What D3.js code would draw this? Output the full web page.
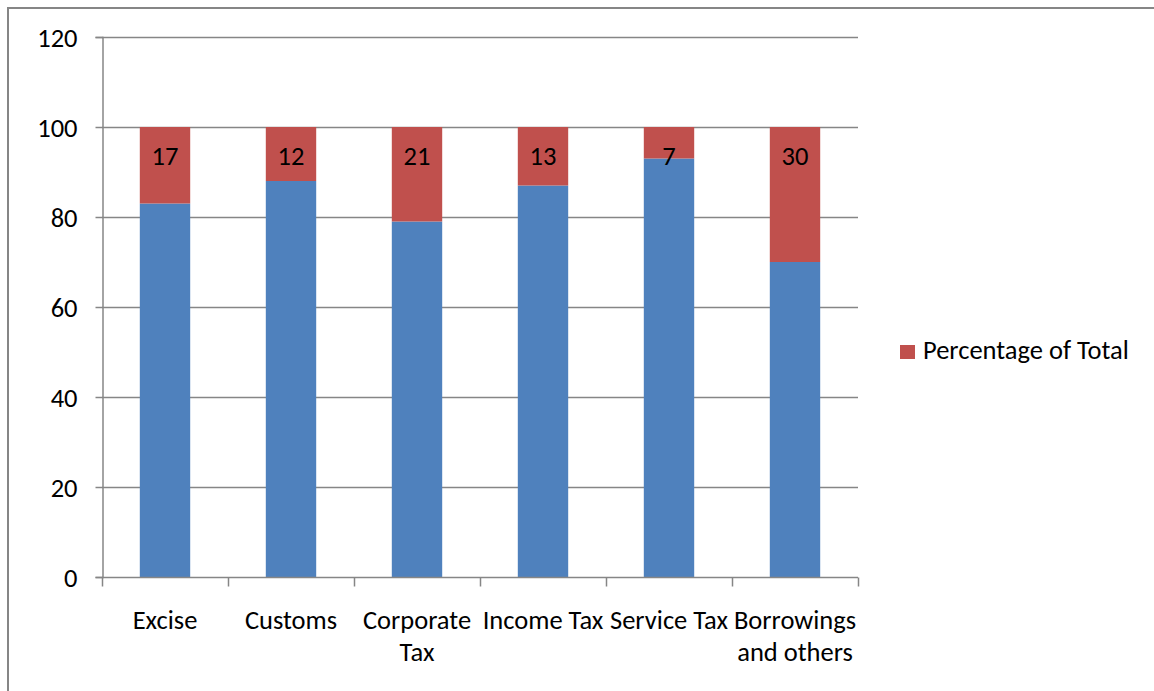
<!DOCTYPE html>
<html>
<head>
<meta charset="utf-8">
<script src="https://cdn.jsdelivr.net/npm/d3@7"></script>
<style>
  html, body { margin: 0; padding: 0; background: #fff; }
  svg { display: block; }
  text { font-family: Carlito, Calibri, Lato, "Open Sans", sans-serif; fill: #000; }
</style>
</head>
<body>
<svg id="chart" width="1154" height="691"></svg>
<script>
// Revenue sources, split into the remainder and the share of total
const categories = ["Excise", "Customs", "Corporate Tax", "Income Tax", "Service Tax", "Borrowings and others"];
const remainder = [83, 88, 79, 87, 93, 70];
const percentageOfTotal = [17, 12, 21, 13, 7, 30];
const yTicks = [0, 20, 40, 60, 80, 100, 120];
const seriesNames = ["Remainder", "Percentage of Total"];
const seriesColors = ["#4F81BD", "#C0504D"];

const FONT = 26.5;
const svg = d3.select("#chart");
const W = 1154, H = 691;

// outer chart border
svg.append("rect")
  .attr("x", 8).attr("y", 8)
  .attr("width", W + 10).attr("height", H + 10)
  .attr("fill", "none").attr("stroke", "#868686").attr("stroke-width", 2);

const plot = { left: 102, right: 858, top: 37, bottom: 577 };

const x = d3.scaleBand().domain(categories).range([plot.left, plot.right]).paddingInner(0.6).paddingOuter(0.3);
const xOuter = d3.scaleBand().domain(categories).range([plot.left, plot.right]);
const y = d3.scaleLinear().domain([0, 120]).range([plot.bottom, plot.top]);

const rows = categories.map((c, i) => ({ category: c, remainder: remainder[i], share: percentageOfTotal[i] }));
const stack = d3.stack().keys(["remainder", "share"])(rows);

// gridlines
svg.append("g").selectAll("line").data(yTicks.filter(t => t > 0)).join("line")
  .attr("x1", plot.left).attr("x2", plot.right)
  .attr("y1", d => Math.round(y(d)) + 0.5).attr("y2", d => Math.round(y(d)) + 0.5)
  .attr("stroke", "#868686").attr("stroke-width", 1.5);

// bars
svg.append("g").selectAll("g").data(stack).join("g")
  .attr("fill", (d, i) => seriesColors[i])
  .selectAll("rect").data(d => d).join("rect")
  .attr("x", d => x(d.data.category))
  .attr("width", x.bandwidth())
  .attr("y", d => y(d[1]))
  .attr("height", d => y(d[0]) - y(d[1]));

// y axis
const yAxis = svg.append("g").attr("transform", `translate(${plot.left + 0.5},0)`)
  .call(d3.axisLeft(y).tickValues(yTicks).tickSize(7).tickPadding(18).tickFormat(d3.format("d")));
yAxis.attr("font-size", null).attr("font-family", null);
yAxis.select(".domain").attr("stroke", "#868686").attr("stroke-width", 1.5);
yAxis.selectAll(".tick line").attr("stroke", "#868686").attr("stroke-width", 1.5);
yAxis.selectAll(".tick text").attr("font-size", FONT).attr("fill", "#000").attr("dy", "0.35em");

// x axis with boundary ticks between categories
const xAxisG = svg.append("g").attr("transform", `translate(0,${plot.bottom + 0.5})`);
xAxisG.append("line").attr("x1", plot.left).attr("x2", plot.right)
  .attr("stroke", "#868686").attr("stroke-width", 1.5);
const bounds = categories.map(c => xOuter(c)).concat([plot.right]);
xAxisG.selectAll("line.tick").data(bounds).join("line").attr("class", "tick")
  .attr("x1", d => Math.round(d) + 0.5).attr("x2", d => Math.round(d) + 0.5)
  .attr("y1", 0).attr("y2", 9)
  .attr("stroke", "#868686").attr("stroke-width", 1.5);

// category labels, wrapped onto two lines where needed
const labelLines = {
  "Excise": ["Excise"],
  "Customs": ["Customs"],
  "Corporate Tax": ["Corporate", "Tax"],
  "Income Tax": ["Income Tax"],
  "Service Tax": ["Service Tax"],
  "Borrowings and others": ["Borrowings", "and others"]
};
xAxisG.selectAll("text").data(categories).join("text")
  .attr("text-anchor", "middle").attr("font-size", FONT)
  .attr("transform", d => `translate(${xOuter(d) + xOuter.bandwidth() / 2},0)`)
  .each(function (d) {
    d3.select(this).selectAll("tspan").data(labelLines[d]).join("tspan")
      .attr("x", 0).attr("y", (l, i) => 51 + i * 32).text(l => l);
  });

// data labels inside the top of each share segment
svg.append("g").selectAll("text").data(stack[1]).join("text")
  .attr("x", d => x(d.data.category) + x.bandwidth() / 2)
  .attr("y", d => y(d[1]) + 38)
  .attr("text-anchor", "middle").attr("font-size", FONT)
  .text(d => d.data.share);

// legend
const legend = svg.append("g").attr("transform", "translate(900,345)");
legend.append("rect").attr("width", 15).attr("height", 14).attr("fill", seriesColors[1]);
legend.append("text").attr("x", 23).attr("y", 13.5).attr("font-size", FONT).text(seriesNames[1]);
</script>
</body>
</html>
